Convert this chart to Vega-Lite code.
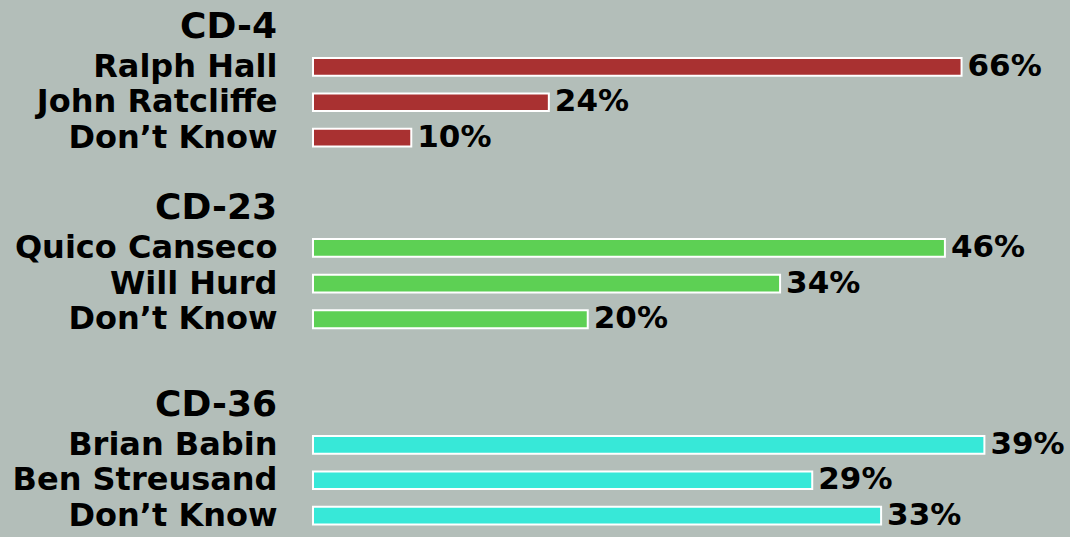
{
  "$schema": "https://vega.github.io/schema/vega-lite/v6.json",
  "background": "#b3beb9",
  "padding": {"left": 12, "top": 9, "right": 8, "bottom": 8},
  "config": {"view": {"stroke": null}, "font": "DejaVu Sans"},
  "spacing": 36,
  "datasets": {
    "polls": [
      {"district": "CD-4", "candidate": "Ralph Hall", "share": 0.66},
      {"district": "CD-4", "candidate": "John Ratcliffe", "share": 0.24},
      {"district": "CD-4", "candidate": "Don’t Know", "share": 0.10},
      {"district": "CD-23", "candidate": "Quico Canseco", "share": 0.46},
      {"district": "CD-23", "candidate": "Will Hurd", "share": 0.34},
      {"district": "CD-23", "candidate": "Don’t Know", "share": 0.20},
      {"district": "CD-36", "candidate": "Brian Babin", "share": 0.39},
      {"district": "CD-36", "candidate": "Ben Streusand", "share": 0.29},
      {"district": "CD-36", "candidate": "Don’t Know", "share": 0.33}
    ]
  },
  "vconcat": [
    {
      "data": {"name": "polls"},
      "transform": [{"filter": "datum.district === 'CD-4'"}],
      "title": {"text": "CD-4", "anchor": "start", "frame": "group", "align": "right", "dx": -36, "baseline": "bottom", "offset": -32, "fontSize": 36, "font": "DejaVu Sans", "fontWeight": "bold", "color": "#000000"},
      "width": 680,
      "height": 88.5,
      "encoding": {
        "y": {"field": "candidate", "type": "nominal", "sort": null, "title": null,
          "scale": {"paddingInner": 0.5, "paddingOuter": 0},
          "axis": {"domain": false, "ticks": false, "labelPadding": 36, "labelLimit": 500, "labelFont": "DejaVu Sans", "labelFontWeight": "bold", "labelFontSize": 32, "labelColor": "#000000"}},
        "x": {"field": "share", "type": "quantitative", "scale": {"domain": [0, 0.692]}, "axis": null}
      },
      "layer": [
        {"mark": {"type": "bar", "color": "#a93131", "stroke": "#ffffff", "strokeWidth": 2}},
        {"mark": {"type": "text", "align": "left", "baseline": "middle", "dx": 6, "fontSize": 31, "fontWeight": "bold", "font": "DejaVu Sans", "color": "#000000"},
         "encoding": {"text": {"field": "share", "type": "quantitative", "format": ".0%"}}}
      ]
    },
    {
      "data": {"name": "polls"},
      "transform": [{"filter": "datum.district === 'CD-23'"}],
      "title": {"text": "CD-23", "anchor": "start", "frame": "group", "align": "right", "dx": -36, "baseline": "bottom", "offset": -32, "fontSize": 36, "font": "DejaVu Sans", "fontWeight": "bold", "color": "#000000"},
      "width": 680,
      "height": 112,
      "encoding": {
        "y": {"field": "candidate", "type": "nominal", "sort": null, "title": null,
          "scale": {"paddingInner": 0.5, "paddingOuter": 0.32, "align": 0},
          "axis": {"domain": false, "ticks": false, "labelPadding": 36, "labelLimit": 500, "labelFont": "DejaVu Sans", "labelFontWeight": "bold", "labelFontSize": 32, "labelColor": "#000000"}},
        "x": {"field": "share", "type": "quantitative", "scale": {"domain": [0, 0.495]}, "axis": null}
      },
      "layer": [
        {"mark": {"type": "bar", "color": "#5dd054", "stroke": "#ffffff", "strokeWidth": 2}},
        {"mark": {"type": "text", "align": "left", "baseline": "middle", "dx": 6, "fontSize": 31, "fontWeight": "bold", "font": "DejaVu Sans", "color": "#000000"},
         "encoding": {"text": {"field": "share", "type": "quantitative", "format": ".0%"}}}
      ]
    },
    {
      "data": {"name": "polls"},
      "transform": [{"filter": "datum.district === 'CD-36'"}],
      "title": {"text": "CD-36", "anchor": "start", "frame": "group", "align": "right", "dx": -36, "baseline": "bottom", "offset": -32, "fontSize": 36, "font": "DejaVu Sans", "fontWeight": "bold", "color": "#000000"},
      "width": 680,
      "height": 88.5,
      "encoding": {
        "y": {"field": "candidate", "type": "nominal", "sort": null, "title": null,
          "scale": {"paddingInner": 0.5, "paddingOuter": 0},
          "axis": {"domain": false, "ticks": false, "labelPadding": 36, "labelLimit": 500, "labelFont": "DejaVu Sans", "labelFontWeight": "bold", "labelFontSize": 32, "labelColor": "#000000"}},
        "x": {"field": "share", "type": "quantitative", "scale": {"domain": [0, 0.395]}, "axis": null}
      },
      "layer": [
        {"mark": {"type": "bar", "color": "#37e8d8", "stroke": "#ffffff", "strokeWidth": 2}},
        {"mark": {"type": "text", "align": "left", "baseline": "middle", "dx": 6, "fontSize": 31, "fontWeight": "bold", "font": "DejaVu Sans", "color": "#000000"},
         "encoding": {"text": {"field": "share", "type": "quantitative", "format": ".0%"}}}
      ]
    }
  ]
}
